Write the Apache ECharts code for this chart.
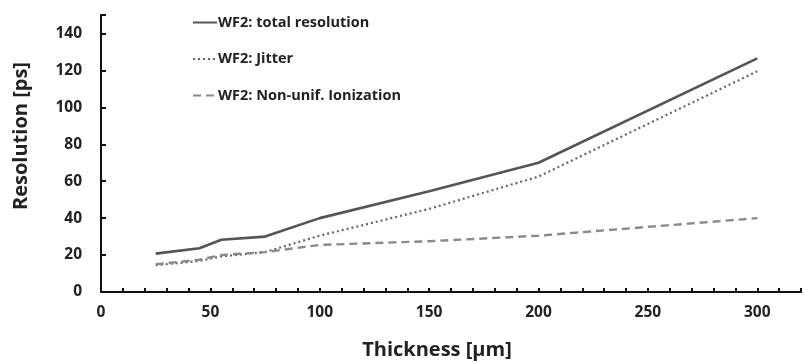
<!DOCTYPE html>
<html>
<head>
<meta charset="utf-8">
<script src="https://cdn.jsdelivr.net/npm/echarts@6/dist/echarts.min.js"></script>
<style>
  html, body { margin: 0; padding: 0; background: #fff; }
  #chart { width: 804px; height: 362px; }
</style>
</head>
<body>
<div id="chart"></div>
<script>
// Sensor thickness (µm) and the resolution contributions (ps)
const thickness = [25, 45, 55, 75, 100, 150, 200, 300];
const totalResolution = [20.8, 23.7, 28.3, 30.0, 40.0, 54.5, 70.0, 126.5];
const jitter = [14.5, 16.8, 19.3, 21.6, 30.5, 45.0, 62.5, 119.5];
const nonUnifIonization = [15.0, 17.5, 20.0, 21.6, 25.5, 27.5, 30.5, 40.0];

const seriesNames = ['WF2: total resolution', 'WF2: Jitter', 'WF2: Non-unif. Ionization'];

const pairs = (ys) => thickness.map((x, i) => [x, ys[i]]);

const font = '"Open Sans", Lato, sans-serif';
const chart = echarts.init(document.getElementById('chart'));

chart.setOption({
  backgroundColor: '#ffffff',
  animation: false,
  grid: { left: 101, right: -3, top: 15, bottom: 70, containLabel: false },
  legend: {
    orient: 'vertical',
    left: 187,
    top: 10,
    itemWidth: 24,
    itemHeight: 14,
    itemGap: 21.5,
    itemStyle: { opacity: 0 },
    textStyle: { fontFamily: font, fontWeight: 'bold', fontSize: 14.5, color: '#222', padding: [0, 0, 0, -4] },
    data: seriesNames
  },
  xAxis: {
    type: 'value',
    min: 0,
    max: 320,
    interval: 50,
    axisLine: { lineStyle: { color: '#111', width: 2 } },
    axisTick: { show: true, inside: true, length: 4, lineStyle: { color: '#111', width: 2 } },
    minorTick: { show: true, splitNumber: 5, length: 4, lineStyle: { color: '#111', width: 2 } },
    splitLine: { show: false },
    axisLabel: {
      fontFamily: font, fontWeight: 'bold', fontSize: 15.5, color: '#222', margin: 13,
      formatter: v => (v % 50 === 0 ? String(v) : '')
    }
  },
  yAxis: {
    type: 'value',
    min: 0,
    max: 150,
    interval: 20,
    axisLine: { show: true, lineStyle: { color: '#111', width: 2 } },
    axisTick: { show: true, inside: true, length: 5, lineStyle: { color: '#111', width: 2 } },
    splitLine: { show: false },
    axisLabel: {
      fontFamily: font, fontWeight: 'bold', fontSize: 15.5, color: '#222', margin: 19,
      formatter: v => (v % 20 === 0 ? String(v) : '')
    }
  },
  graphic: [
    {
      type: 'text',
      x: 437, y: 350,
      style: {
        text: 'Thickness [\u00b5m]',
        x: 0, y: 0,
        textAlign: 'center', textVerticalAlign: 'middle',
        font: 'bold 20px ' + font, fill: '#222'
      }
    },
    {
      type: 'text',
      x: 21, y: 136,
      rotation: Math.PI / 2,
      style: {
        text: 'Resolution [ps]',
        x: 0, y: 0,
        textAlign: 'center', textVerticalAlign: 'middle',
        font: 'bold 20px ' + font, fill: '#222'
      }
    }
  ],
  series: [
    {
      name: seriesNames[0], type: 'line', symbol: 'none',
      data: pairs(totalResolution),
      lineStyle: { color: '#555', width: 2.6, type: 'solid' },
      itemStyle: { color: '#555' }
    },
    {
      name: seriesNames[1], type: 'line', symbol: 'none',
      data: pairs(jitter),
      lineStyle: { color: '#666', width: 2.2, type: [2, 3] },
      itemStyle: { color: '#666' }
    },
    {
      name: seriesNames[2], type: 'line', symbol: 'none',
      data: pairs(nonUnifIonization),
      lineStyle: { color: '#8a8a8a', width: 2.4, type: [8, 5] },
      itemStyle: { color: '#8a8a8a' }
    }
  ]
});
</script>
</body>
</html>
